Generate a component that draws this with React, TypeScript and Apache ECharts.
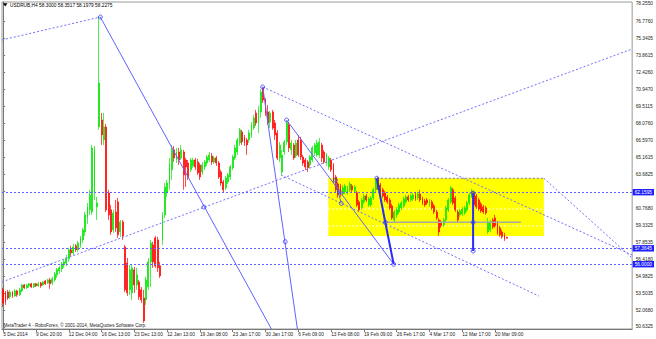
import React, { useEffect, useRef } from "react";
import * as echarts from "echarts";

const chartTitle = "USDRUB,H4 58.3000 58.3517 58.1979 58.2275";
const footerText = "MetaTrader 4 - RoboForex, © 2001-2014, MetaQuotes Software Corp.";

const timeLabels = [
  "5 Dec 2014", "9 Dec 20:00", "12 Dec 04:00", "16 Dec 13:00", "23 Dec 13:00",
  "12 Jan 13:00", "19 Jan 08:00", "23 Jan 17:00", "30 Jan 17:00", "6 Feb 09:00",
  "13 Feb 08:00", "19 Feb 09:00", "26 Feb 17:00", "4 Mar 17:00", "12 Mar 17:00", "20 Mar 09:00",
];
const barsPerLabel = 14;
const slotCount = 269;

const priceTicks = [
  78.255, 76.776, 75.3405, 73.8615, 72.426, 70.947, 69.5115, 68.076, 66.597, 65.1615,
  63.6825, 62.247, 60.768, 59.3325, 57.8535, 56.418, 54.9825, 53.5035, 52.068, 50.6325,
];
const priceMin = 50.46;
const priceMax = 78.426;

// [open, close, low, high]
const candles: number[][] = [
  [53.81, 52.69, 52.35, 53.98], [53.55, 52.78, 52.52, 53.72], [53.63, 53.12, 52.95, 53.81], [53.21, 53.63, 53.04, 53.81],
  [53.63, 53.29, 53.12, 53.72], [53.29, 53.72, 53.21, 53.89], [53.72, 53.38, 53.21, 53.81], [53.38, 53.81, 53.29, 53.98],
  [53.72, 54.23, 53.63, 54.32], [54.23, 53.98, 53.89, 54.32], [53.98, 54.23, 53.89, 54.32], [54.15, 54.32, 53.98, 54.40],
  [54.32, 54.06, 53.98, 54.40], [54.06, 54.32, 53.98, 54.40], [54.32, 54.15, 54.06, 54.40], [54.15, 54.32, 54.06, 54.49],
  [54.40, 54.15, 53.98, 54.49], [54.23, 54.49, 54.15, 54.57], [54.57, 54.32, 54.23, 54.66], [54.40, 54.66, 54.32, 54.75],
  [54.66, 54.32, 53.89, 54.83], [54.40, 54.75, 54.23, 54.92], [54.66, 55.17, 54.49, 55.34], [55.09, 55.52, 54.83, 55.69],
  [55.43, 55.69, 55.17, 55.86], [55.60, 56.03, 55.34, 56.20], [55.94, 56.20, 55.69, 56.37], [56.11, 56.54, 55.86, 56.80],
  [56.46, 57.23, 56.20, 57.40], [57.23, 56.97, 56.71, 57.57], [56.97, 57.48, 56.80, 57.74], [57.57, 57.23, 57.05, 57.74],
  [57.23, 57.82, 57.05, 57.99], [57.65, 58.25, 57.40, 58.42], [58.08, 58.94, 57.82, 59.11], [58.76, 60.22, 58.42, 60.47],
  [59.96, 60.90, 59.45, 61.24], [60.65, 61.93, 60.22, 62.36], [60.47, 65.95, 60.22, 66.20], [62.10, 65.78, 61.50, 66.12],
  [60.90, 61.24, 59.79, 61.76], [67.74, 71.50, 67.49, 77.15], [68.34, 67.06, 66.20, 68.94], [66.63, 67.74, 66.20, 68.94],
  [67.74, 60.65, 60.47, 68.00], [62.10, 60.22, 59.79, 62.36], [60.65, 58.76, 58.51, 61.07], [58.94, 60.39, 58.68, 60.65],
  [60.47, 59.11, 58.76, 61.50], [61.33, 58.51, 58.25, 61.67], [58.76, 59.62, 58.34, 59.79], [59.62, 58.42, 58.08, 59.79],
  [57.48, 53.81, 53.63, 57.65], [56.11, 53.55, 53.29, 56.54], [53.81, 55.52, 53.38, 55.94], [53.55, 55.69, 52.95, 55.94],
  [55.52, 54.23, 53.55, 55.77], [54.23, 55.09, 53.81, 55.69], [54.49, 53.21, 52.95, 54.66], [53.81, 52.95, 52.69, 54.06],
  [53.12, 51.15, 50.98, 53.81], [52.95, 54.66, 52.52, 54.92], [54.06, 56.20, 53.81, 56.54], [56.20, 57.82, 54.06, 58.08],
  [57.65, 56.20, 55.69, 57.91], [58.25, 55.86, 55.69, 58.42], [58.08, 55.69, 55.34, 58.34], [55.86, 55.00, 54.83, 56.20],
  [58.08, 60.22, 57.65, 60.47], [60.22, 62.61, 59.96, 62.95], [62.10, 62.95, 61.76, 63.21], [62.78, 64.49, 62.36, 65.09],
  [64.07, 65.78, 63.21, 66.20], [65.78, 65.09, 64.75, 66.12], [64.92, 65.60, 64.66, 65.95], [65.60, 64.92, 64.49, 65.95],
  [65.09, 65.78, 64.92, 66.20], [65.60, 63.64, 62.36, 65.78], [64.92, 64.32, 62.61, 65.09], [64.66, 63.47, 63.21, 64.92],
  [64.07, 64.92, 63.89, 65.09], [64.41, 64.92, 64.24, 65.09], [64.92, 64.32, 64.07, 65.09], [64.75, 63.81, 63.64, 65.01],
  [64.49, 63.47, 63.21, 64.66], [63.89, 64.49, 63.64, 64.75], [64.32, 64.75, 64.07, 64.92], [64.66, 65.18, 64.41, 65.35],
  [64.92, 65.35, 64.75, 65.60], [65.26, 64.75, 64.49, 65.52], [64.75, 65.09, 64.58, 65.26], [65.09, 64.66, 64.41, 65.26],
  [64.66, 63.47, 63.30, 64.83], [63.89, 62.95, 62.70, 64.07], [63.04, 62.36, 62.10, 63.21], [62.53, 63.38, 62.36, 63.55],
  [63.04, 63.64, 62.87, 63.81], [63.47, 64.32, 63.21, 64.49], [64.24, 65.18, 64.07, 65.35], [65.09, 65.95, 64.92, 66.20],
  [65.60, 66.63, 65.35, 66.80], [66.37, 67.49, 66.12, 67.66], [67.31, 66.46, 66.20, 67.49], [66.89, 66.37, 66.12, 67.06],
  [66.63, 66.20, 65.35, 66.80], [66.63, 67.23, 66.37, 67.49], [67.06, 67.91, 66.80, 68.17], [67.66, 68.51, 67.49, 68.77],
  [68.94, 68.08, 67.83, 69.20], [68.08, 69.20, 67.23, 69.54], [69.02, 70.73, 68.51, 70.99], [71.08, 70.05, 69.79, 71.16],
  [70.05, 68.94, 68.68, 70.22], [69.02, 68.08, 67.91, 69.62], [68.17, 68.94, 67.66, 69.11], [69.02, 67.66, 67.49, 69.20],
  [68.08, 67.06, 66.63, 68.34], [67.23, 65.09, 64.92, 67.49], [65.09, 66.20, 64.75, 66.46], [63.89, 65.35, 63.64, 65.78],
  [65.60, 66.46, 65.35, 66.63], [66.46, 68.08, 66.20, 68.34], [67.91, 65.95, 65.60, 68.17], [65.78, 66.37, 65.35, 66.63],
  [66.20, 65.09, 64.92, 66.37], [65.26, 66.37, 65.09, 66.63], [66.63, 65.35, 65.18, 67.06], [66.63, 65.18, 64.92, 66.89],
  [65.18, 64.66, 64.41, 65.35], [64.92, 64.32, 64.07, 65.09], [64.75, 64.24, 63.89, 64.92], [64.49, 65.18, 64.24, 65.35],
  [64.92, 65.95, 64.75, 66.12], [65.52, 66.20, 65.26, 66.37], [65.35, 66.37, 65.18, 66.63], [65.35, 66.46, 65.09, 66.80],
  [66.20, 65.09, 64.75, 66.37], [65.60, 64.75, 64.58, 65.78], [64.66, 65.35, 64.41, 65.52], [64.32, 65.09, 64.07, 65.26],
  [64.92, 64.07, 63.89, 65.09], [64.49, 63.21, 62.95, 64.66], [63.47, 62.36, 62.10, 63.64], [62.87, 61.93, 61.67, 63.04],
  [62.70, 61.93, 61.76, 62.87], [62.01, 62.53, 61.84, 62.78], [62.18, 62.70, 62.01, 62.87], [62.10, 62.53, 61.93, 62.70],
  [62.36, 62.87, 62.18, 63.04], [62.70, 62.36, 62.18, 62.87], [62.27, 62.61, 62.10, 62.78], [62.10, 61.07, 60.90, 62.27],
  [61.33, 60.65, 60.47, 61.50], [60.82, 61.50, 60.65, 61.67], [61.33, 61.84, 61.16, 62.01], [61.84, 61.50, 61.33, 62.01],
  [61.07, 61.59, 60.90, 61.76], [61.07, 61.67, 60.90, 61.84], [61.67, 62.36, 61.50, 62.53], [62.36, 63.21, 62.18, 63.38],
  [63.38, 62.53, 62.36, 63.47], [62.78, 62.18, 62.01, 62.95], [62.36, 61.84, 61.67, 62.53], [62.10, 61.50, 61.33, 62.27],
  [61.76, 61.33, 61.16, 61.93], [61.50, 60.82, 60.65, 61.67], [60.99, 59.96, 59.79, 61.16], [59.79, 60.47, 59.62, 60.65],
  [60.22, 60.65, 59.96, 60.90], [60.47, 61.07, 60.30, 61.24], [60.82, 61.24, 60.65, 61.41], [60.99, 61.59, 60.82, 61.76],
  [61.33, 61.76, 61.16, 61.93], [61.76, 61.50, 61.33, 61.93], [61.50, 61.84, 61.33, 62.01], [61.59, 61.93, 61.41, 62.10],
  [61.93, 61.59, 61.41, 62.10], [61.67, 62.01, 61.50, 62.18], [62.01, 61.50, 61.33, 62.36], [61.59, 61.24, 61.07, 61.76],
  [61.41, 61.07, 60.90, 61.59], [61.50, 61.24, 61.07, 61.67], [61.07, 61.41, 60.90, 61.59], [61.33, 60.82, 60.65, 61.50],
  [60.99, 60.47, 60.30, 61.16], [60.47, 59.96, 59.79, 60.65], [59.79, 58.76, 58.42, 59.96], [59.62, 59.28, 59.11, 59.79],
  [59.36, 59.79, 59.19, 59.96], [59.79, 60.82, 59.62, 60.99], [60.65, 61.50, 60.47, 61.67], [61.33, 62.53, 61.16, 62.70],
  [62.36, 61.24, 61.07, 62.53], [61.67, 60.65, 60.47, 61.84], [60.47, 59.79, 59.62, 60.65], [60.22, 60.56, 60.05, 60.73],
  [60.30, 60.73, 60.13, 60.90], [60.39, 60.82, 60.22, 60.99], [60.65, 61.24, 60.47, 61.41], [61.24, 61.93, 61.07, 62.10],
  [61.84, 62.27, 61.67, 62.44], [62.10, 61.07, 60.82, 62.27], [61.84, 60.90, 60.73, 62.01], [61.50, 60.73, 60.56, 61.67],
  [61.16, 60.56, 60.39, 61.33], [60.90, 60.47, 60.30, 61.07], [60.82, 60.39, 60.22, 60.99], [58.76, 59.62, 58.59, 59.96],
  [58.94, 59.62, 58.76, 59.79], [59.79, 59.19, 59.02, 59.96], [59.96, 59.28, 59.11, 60.22], [59.53, 58.68, 58.51, 59.70],
  [59.11, 58.51, 58.34, 59.28], [58.76, 58.34, 58.17, 58.94], [58.51, 58.17, 57.99, 58.68], [58.30, 58.2275, 58.1979, 58.3517],
];

const levelLines = [62.1595, 57.3645, 56.0];
const bidPrice = 58.2275;

// trend objects: [barIndex, price] pairs
const dottedLines = [
  [[-0.5, 75.18], [41.46, 77.14]],
  [[-0.5, 54.48], [268.5, 74.41]],
  [[110.8, 71.16], [268.5, 56.79]],
  [[118.6, 63.63], [228.7, 53.28]],
  [[230.8, 63.35], [268.5, 56.53]],
  [[159.5, 63.35], [230.8, 63.35]],
];
const thinLines = [
  [[41.46, 77.14], [114.5, 50.46]],
  [[110.8, 71.16], [125.6, 50.46]],
  [[121.0, 68.33], [166.7, 56.0]],
  [[141.6, 63.3], [144.3, 61.2]],
];
const thickLines = [
  [[159.5, 63.35], [163.1, 59.59], [166.7, 56.0]],
  [[200.6, 62.07], [200.6, 59.59], [200.6, 57.13]],
];
const grayLines = [[[163.1, 59.59], [221.0, 59.59]]];
const boxCorners = [[138.8, 63.374], [230.8, 58.414]];
const boxInnerLevels = [60.72, 59.27];
const anchorPoints = [
  [41.46, 77.14], [85.7, 60.89], [110.8, 71.16], [120.4, 57.93], [121.0, 68.33],
  [159.5, 63.35], [163.1, 59.59], [166.7, 56.0], [200.6, 62.07], [200.6, 59.59], [200.6, 57.13],
  [141.8, 63.2], [143.5, 62.2], [144.3, 61.2],
];

const FONT = "Liberation Sans";
const FS = 4.8;

export default function App() {
  const ref = useRef<HTMLDivElement>(null);
  useEffect(() => {
    if (!ref.current) return;
    const chart = echarts.init(ref.current, undefined, { renderer: "svg" });
    const categories = Array.from({ length: slotCount }, (_, i) => String(i));
    const isLabelSlot = (i: number) => i % barsPerLabel === 0 && i / barsPerLabel < timeLabels.length;

    const lineSeries = (pts: number[][], color: string, width: number, type: any, z: number) => ({
      type: "line",
      xAxisIndex: 1,
      yAxisIndex: 0,
      data: pts,
      symbol: "none",
      silent: true,
      z,
      lineStyle: { color, width, type },
      animation: false,
    });

    const levelMarks: any[] = levelLines.map((v) => ({
      yAxis: v,
      lineStyle: { color: "#5f5fff", width: 1, type: [2, 2] },
      label: {
        show: true,
        position: "end",
        distance: 0.5,
        formatter: v.toFixed(4),
        backgroundColor: "#2020ff",
        color: "#ffffff",
        fontSize: FS,
        fontFamily: FONT,
        padding: [0.8, 2, 0.6, 2],
      },
    }));
    levelMarks.push({
      yAxis: bidPrice,
      lineStyle: { opacity: 0 },
      label: {
        show: true,
        position: "end",
        distance: 0.5,
        formatter: bidPrice.toFixed(4),
        backgroundColor: "#000000",
        color: "#ffffff",
        fontSize: FS,
        fontFamily: FONT,
        padding: [0.8, 2, 0.6, 2],
      },
    });

    const option: any = {
      animation: false,
      backgroundColor: "#ffffff",
      grid: { left: 2, right: 22.5, top: 2, bottom: 10, show: true, borderColor: "#9a9a9a", borderWidth: 1 },
      xAxis: [
        {
          type: "category",
          data: categories,
          boundaryGap: true,
          axisLine: { lineStyle: { color: "#777" } },
          axisTick: { show: true, interval: (i: number) => isLabelSlot(i), alignWithLabel: true, length: 3, lineStyle: { color: "#777" } },
          axisLabel: {
            interval: (i: number) => isLabelSlot(i),
            formatter: (_v: string, i: number) => timeLabels[Math.round(i / barsPerLabel)] ?? "",
            align: "left",
            margin: 2.5,
            fontSize: FS,
            fontFamily: FONT,
            color: "#222",
          },
          splitLine: { show: false },
        },
        { type: "value", min: -0.5, max: slotCount - 0.5, show: false },
      ],
      yAxis: {
        type: "value",
        position: "right",
        min: priceMin,
        max: priceMax,
        axisLine: { show: true, lineStyle: { color: "#777" } },
        axisTick: { show: true, length: 2, customValues: priceTicks, lineStyle: { color: "#777" } },
        axisLabel: {
          customValues: priceTicks,
          formatter: (v: number) => v.toFixed(4),
          margin: 3.5,
          fontSize: FS,
          fontFamily: FONT,
          color: "#222",
        },
        splitLine: { show: false },
      },
      graphic: [
        { type: "polygon", shape: { points: [[3, 3.2], [7.4, 3.2], [5.2, 6.6]] }, style: { fill: "#000" }, z: 100 },
        {
          type: "text",
          x: 10,
          y: 5,
          z: 100,
          style: { text: chartTitle, fontSize: FS, fontFamily: FONT, fill: "#000", verticalAlign: "middle" },
        },
        {
          type: "text",
          x: 3.5,
          y: 325,
          z: 100,
          style: { text: footerText, fontSize: FS - 0.2, fontFamily: FONT, fill: "#222", verticalAlign: "middle" },
        },
      ],
      series: [
        {
          type: "custom",
          xAxisIndex: 1,
          yAxisIndex: 0,
          z: 1,
          silent: true,
          data: [[boxCorners[0][0], boxCorners[0][1], boxCorners[1][0], boxCorners[1][1]]],
          encode: { x: [0, 2], y: [1, 3] },
          renderItem: (_p: any, api: any) => {
            const p1 = api.coord([api.value(0), api.value(1)]);
            const p2 = api.coord([api.value(2), api.value(3)]);
            return {
              type: "rect",
              shape: { x: p1[0], y: p1[1], width: p2[0] - p1[0], height: p2[1] - p1[1] },
              style: { fill: "#ffff00" },
            };
          },
        },
        ...boxInnerLevels.map((v) =>
          lineSeries([[boxCorners[0][0], v], [boxCorners[1][0], v]], "#ffffff", 1, [2, 2], 2)
        ),
        {
          type: "candlestick",
          xAxisIndex: 0,
          yAxisIndex: 0,
          data: candles,
          barWidth: 1.4,
          z: 3,
          silent: true,
          itemStyle: {
            color: "#00e600",
            color0: "#ff0000",
            borderColor: "#00e600",
            borderColor0: "#ff0000",
            borderWidth: 0.7,
          },
          markLine: { symbol: "none", silent: true, animation: false, data: levelMarks },
        },
        ...grayLines.map((pts) => lineSeries(pts, "#a8a8a8", 1.5, "solid", 4)),
        ...dottedLines.map((pts) => lineSeries(pts, "#7070ff", 1, [2, 2], 4)),
        ...thinLines.map((pts) => lineSeries(pts, "#6262ff", 1, "solid", 4)),
        ...thickLines.map((pts) => lineSeries(pts, "#2a2aff", 2, "solid", 5)),
        {
          type: "scatter",
          xAxisIndex: 1,
          yAxisIndex: 0,
          data: anchorPoints,
          symbol: "circle",
          symbolSize: 4,
          silent: true,
          z: 6,
          itemStyle: { color: "rgba(0,0,0,0)", borderColor: "#3a3aff", borderWidth: 1 },
        },
      ],
    };
    chart.setOption(option);
    return () => chart.dispose();
  }, []);
  return (
    <div
      ref={ref}
      style={{ position: "fixed", left: 0, top: 0, width: 656, height: 339, background: "#fff" }}
    />
  );
}
